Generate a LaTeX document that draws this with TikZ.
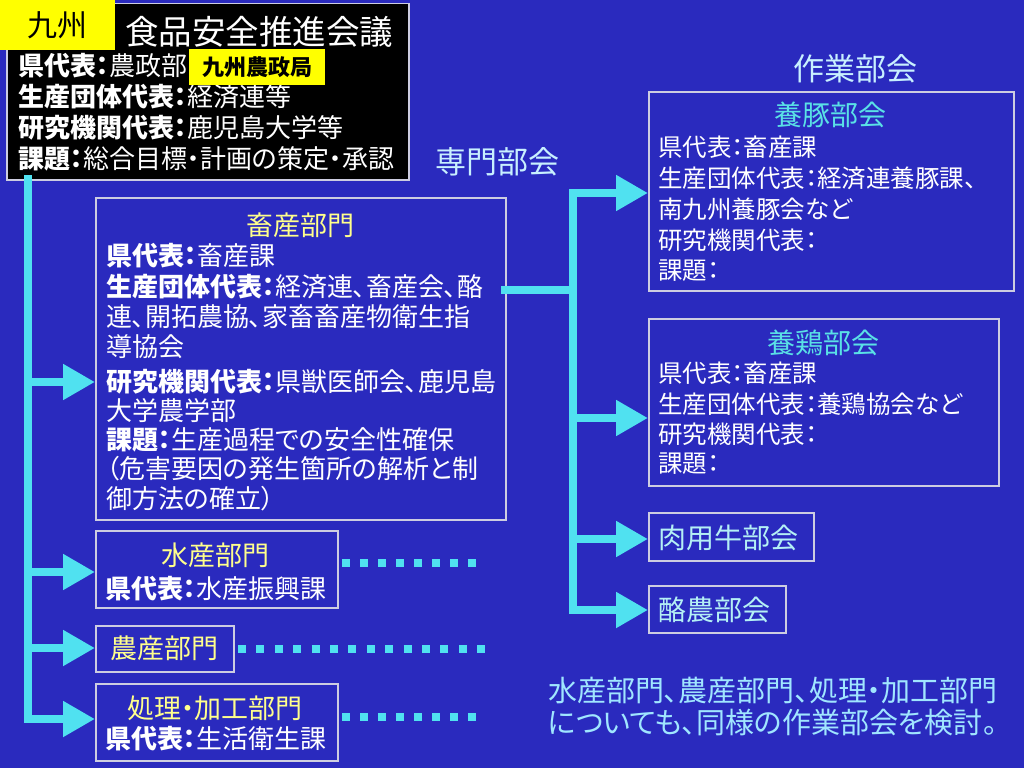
\documentclass[tikz,border=0pt]{standalone}
\usepackage{fontspec}
\setmainfont[RawFeature=+palt]{Noto Sans CJK JP}
\usetikzlibrary{arrows.meta}
\definecolor{bgblue}{RGB}{42,42,190}
\definecolor{lcyan}{RGB}{80,225,240}
\definecolor{boxc}{RGB}{205,205,225}
\definecolor{tyellow}{RGB}{255,255,140}
\definecolor{kyellow}{RGB}{255,255,0}
\definecolor{tcyan}{RGB}{90,225,230}
\definecolor{pcyan}{RGB}{180,240,245}
\definecolor{hcyan}{RGB}{200,240,255}
\definecolor{bcyan}{RGB}{160,230,255}
\newcommand{\fsz}[1]{\fontsize{#1}{#1}\selectfont}
\begin{document}
\begin{tikzpicture}[x=1pt,y=-1pt,
  frame/.style={draw=boxc, line width=1.5pt, inner sep=0pt, anchor=north west},
  txt/.style={anchor=base west, inner sep=0pt, text=white, font=\fsz{26}},
  rtxt/.style={anchor=base west, inner sep=0pt, text=white, font=\fsz{24.5}},
  ttl/.style={anchor=base, inner sep=0pt, text=tyellow, font=\fsz{27}},
  ctl/.style={anchor=base, inner sep=0pt, text=tcyan, font=\fsz{28}},
  trunk/.style={draw=lcyan, line width=8pt, line cap=rect, line join=miter},
  arr/.style={trunk, -{Triangle[length=32pt,width=34pt]}},
  dotline/.style={draw=lcyan, line width=8pt, line cap=butt}
]
\fill[bgblue] (0,0) rectangle (1024,768);
\useasboundingbox (0,0) rectangle (1024,768);

% council box
\node[frame, fill=black, minimum width=402pt, minimum height=176pt] (council) at (6,3) {};
\node[anchor=base west, inner sep=0pt, text=white, font=\fsz{33.5}] (ctitle) at (125,44.5) {食品安全推進会議};
\node[txt] (cl1) at (18,75) {{\bfseries 県代表：}農政部};
\node[txt] (cl2) at (18,106) {{\bfseries 生産団体代表：}経済連等};
\node[txt] (cl3) at (18,137) {{\bfseries 研究機関代表：}鹿児島大学等};
\node[txt] (cl4) at (18,168) {{\bfseries 課題：}総合目標・計画の策定・承認};
\node[fill=kyellow, inner sep=0pt, anchor=north west, minimum width=115pt, minimum height=50pt, font=\fsz{30}] (kyushu) at (0,0) {九州};
\node[fill=kyellow, inner sep=0pt, anchor=north west, minimum width=136pt, minimum height=36pt, font=\fsz{22}\bfseries] (noseikyoku) at (189,49) {九州農政局};

% headings
\node[anchor=base, inner sep=0pt, text=hcyan, font=\fsz{31}] (senmon) at (497,173) {専門部会};
\node[anchor=base, inner sep=0pt, text=hcyan, font=\fsz{31}] (sagyo) at (855,80) {作業部会};

% chikusan box
\node[frame, minimum width=410pt, minimum height=322pt] (chiku) at (95,197) {};
\node[ttl] (chikut) at (300,235) {畜産部門};
\node[txt] (ch1) at (106,265) {{\bfseries 県代表：}畜産課};
\node[txt] (ch2) at (106,296) {{\bfseries 生産団体代表：}経済連、畜産会、酪};
\node[txt] (ch3) at (106,326) {連、開拓農協、家畜畜産物衛生指};
\node[txt] (ch4) at (106,356) {導協会};
\node[txt] (ch5) at (106,391) {{\bfseries 研究機関代表：}県獣医師会、鹿児島};
\node[txt] (ch6) at (106,420) {大学農学部};
\node[txt] (ch7) at (106,449) {{\bfseries 課題：}生産過程での安全性確保};
\node[txt] (ch8) at (106,478) {（危害要因の発生箇所の解析と制};
\node[txt] (ch9) at (106,508) {御方法の確立）};

% suisan
\node[frame, minimum width=242pt, minimum height=77pt] (suisan) at (95,530) {};
\node[ttl] (suisant) at (215,565) {水産部門};
\node[txt] (su1) at (105,598) {{\bfseries 県代表：}水産振興課};

% nosan
\node[frame, minimum width=138pt, minimum height=46pt] (nosan) at (95,625) {};
\node[ttl] (nosant) at (164,658) {農産部門};

% shori
\node[frame, minimum width=242pt, minimum height=77pt] (shori) at (95,683) {};
\node[ttl] (shorit) at (215,718) {処理・加工部門};
\node[txt] (sh1) at (105,748) {{\bfseries 県代表：}生活衛生課};

% yoton
\node[frame, minimum width=365pt, minimum height=199pt] (yoton) at (648,91) {};
\node[ctl] (yotont) at (830,125.5) {養豚部会};
\node[rtxt] (yt1) at (658,156) {県代表：畜産課};
\node[rtxt] (yt2) at (658,187) {生産団体代表：経済連養豚課、};
\node[rtxt] (yt3) at (658,218) {南九州養豚会など};
\node[rtxt] (yt4) at (658,249) {研究機関代表：};
\node[rtxt] (yt5) at (658,279) {課題：};

% yokei
\node[frame, minimum width=350pt, minimum height=167pt] (yokei) at (648,318) {};
\node[ctl] (yokeit) at (823,353) {養鶏部会};
\node[rtxt] (yk1) at (658,382) {県代表：畜産課};
\node[rtxt] (yk2) at (658,413) {生産団体代表：養鶏協会など};
\node[rtxt] (yk3) at (658,443) {研究機関代表：};
\node[rtxt] (yk4) at (658,472) {課題：};

% nikuyo, rakuno
\node[frame, minimum width=165pt, minimum height=48pt] (nikuyo) at (648,512) {};
\node[anchor=base west, inner sep=0pt, text=pcyan, font=\fsz{28}] (nikuyot) at (658,548) {肉用牛部会};
\node[frame, minimum width=137pt, minimum height=47pt] (rakuno) at (648,585) {};
\node[anchor=base west, inner sep=0pt, text=pcyan, font=\fsz{28}] (rakunot) at (658,620) {酪農部会};

% bottom note
\node[anchor=base west, inner sep=0pt, text=bcyan, font=\fsz{29}] (note1) at (548,701) {水産部門、農産部門、処理・加工部門};
\node[anchor=base west, inner sep=0pt, text=bcyan, font=\fsz{29}] (note2) at (548,733) {についても、同様の作業部会を検討。};

% left trunk
\coordinate (t0) at (28,179);
\coordinate (b1) at (28,382);
\coordinate (b2) at (28,572);
\coordinate (b3) at (28,648);
\coordinate (b4) at (28,719);
\draw[arr] (t0) -- (b4) -- (b4 -| shori.west);
\draw[arr] (b1) -- (b1 -| chiku.west);
\draw[arr] (b2) -- (b2 -| suisan.west);
\draw[arr] (b3) -- (b3 -| nosan.west);

% right trunk
\coordinate (h0) at (505,290);
\coordinate (j0) at (573,290);
\coordinate (v1) at (573,193);
\coordinate (v2) at (573,418);
\coordinate (v3) at (573,539);
\coordinate (v4) at (573,610);
\draw[trunk] (h0) -- (j0);
\draw[arr] (v1) -- (v4) -- (v4 -| rakuno.west);
\draw[arr] (v1) -- (v1 -| yoton.west);
\draw[arr] (v2) -- (v2 -| yokei.west);
\draw[arr] (v3) -- (v3 -| nikuyo.west);

% dotted continuations
\coordinate (d1s) at (342,563);
\coordinate (d1e) at (476,563);
\coordinate (d2s) at (238,649);
\coordinate (d2e) at (486,649);
\coordinate (d3s) at (342,717);
\coordinate (d3e) at (476,717);
\draw[dotline, dash pattern=on 8pt off 10pt] (d1s) -- (d1e);
\draw[dotline, dash pattern=on 8pt off 10.4pt] (d2s) -- (d2e);
\draw[dotline, dash pattern=on 8pt off 10pt] (d3s) -- (d3e);
\end{tikzpicture}
\end{document}
